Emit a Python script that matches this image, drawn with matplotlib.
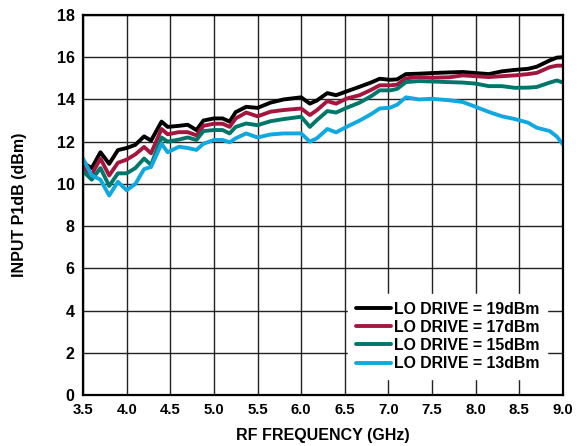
import numpy as np
import matplotlib.pyplot as plt

plt.rcParams['font.family'] = ['Liberation Sans', 'DejaVu Sans']
plt.rcParams['font.weight'] = 'bold'

# RF frequency (GHz)
freq = [3.5, 3.6, 3.7, 3.8, 3.9, 4.0, 4.1, 4.2, 4.28, 4.4, 4.47, 4.6, 4.7,
        4.8, 4.88, 5.0, 5.1, 5.18, 5.25, 5.37, 5.5, 5.65, 5.8, 6.0, 6.1,
        6.18, 6.3, 6.4, 6.52, 6.67, 6.8, 6.9, 7.02, 7.1, 7.2, 7.35, 7.5,
        7.7, 7.85, 8.0, 8.15, 8.3, 8.45, 8.6, 8.7, 8.85, 8.93, 9.0]

# input P1dB (dBm) per LO drive level
p1db_19 = [11.0, 10.75, 11.5, 10.95, 11.6, 11.7, 11.85, 12.25, 12.05, 12.95,
           12.7, 12.75, 12.8, 12.55, 13.0, 13.1, 13.1, 12.95, 13.4, 13.65,
           13.6, 13.85, 14.0, 14.1, 13.8, 13.95, 14.3, 14.2, 14.38, 14.6,
           14.8, 14.98, 14.93, 14.95, 15.2, 15.22, 15.25, 15.28, 15.3, 15.25,
           15.2, 15.33, 15.4, 15.45, 15.55, 15.85, 15.98, 16.0]
p1db_17 = [10.8, 10.45, 11.2, 10.4, 11.0, 11.15, 11.4, 11.75, 11.45, 12.6,
           12.35, 12.45, 12.45, 12.3, 12.75, 12.85, 12.85, 12.7, 13.1, 13.38,
           13.2, 13.42, 13.5, 13.57, 13.26, 13.49, 13.92, 13.8, 14.04, 14.2,
           14.45, 14.67, 14.67, 14.7, 15.0, 15.06, 15.03, 15.05, 15.14, 15.1,
           15.06, 15.1, 15.14, 15.2, 15.26, 15.53, 15.6, 15.6]
p1db_15 = [10.6, 10.2, 10.75, 9.9, 10.5, 10.5, 10.75, 11.2, 10.9, 12.2,
           12.0, 12.1, 12.2, 12.08, 12.5, 12.55, 12.55, 12.39, 12.7, 12.86,
           12.78, 12.97, 13.07, 13.18, 12.7, 13.02, 13.45, 13.38, 13.6, 13.85,
           14.15, 14.43, 14.43, 14.5, 14.82, 14.87, 14.85, 14.82, 14.8, 14.75,
           14.63, 14.63, 14.55, 14.56, 14.59, 14.8, 14.9, 14.8]
p1db_13 = [11.2, 10.4, 10.2, 9.45, 10.1, 9.7, 10.0, 10.7, 10.8, 11.9,
           11.5, 11.76, 11.7, 11.61, 11.9, 12.08, 12.08, 11.97, 12.16, 12.39,
           12.2, 12.34, 12.39, 12.39, 12.0, 12.16, 12.6, 12.44, 12.7, 13.0,
           13.3, 13.57, 13.61, 13.75, 14.1, 14.0, 14.03, 13.96, 13.88, 13.65,
           13.41, 13.2, 13.07, 12.9, 12.66, 12.5, 12.24, 11.87]

labels = ['LO DRIVE = 19dBm', 'LO DRIVE = 17dBm',
          'LO DRIVE = 15dBm', 'LO DRIVE = 13dBm']
colors = ['#000000', '#A3173F', '#00766B', '#10A8DE']

fig = plt.figure(figsize=(5.87, 4.46), dpi=100)
ax = fig.add_axes([0.1414, 0.1143, 0.8176, 0.8521])

for series, lab, col in zip([p1db_19, p1db_17, p1db_15, p1db_13], labels, colors):
    ax.plot(freq, series, color=col, lw=2.8, label=lab,
            solid_joinstyle='round', solid_capstyle='round', zorder=3)

ax.set_xlim(3.5, 9.0)
ax.set_ylim(0, 18)
ax.set_xticks(np.arange(3.5, 9.01, 0.5))
ax.set_yticks(np.arange(0, 18.1, 2))
ax.xaxis.set_major_formatter(plt.FormatStrFormatter('%.1f'))
ax.grid(True, color='#222222', lw=1.0, zorder=1)
ax.tick_params(axis='x', length=0, labelsize=10.7, pad=6)
ax.tick_params(axis='y', length=0, labelsize=11.5, pad=6)
for s in ax.spines.values():
    s.set_linewidth(1.6)
    s.set_zorder(4)

ax.set_xlabel('RF FREQUENCY (GHz)', fontsize=11.5, fontweight='bold')
ax.set_ylabel('INPUT P1dB (dBm)', fontsize=11.5, fontweight='bold')
ax.xaxis.set_label_coords(0.5, -0.088)
ax.yaxis.set_label_coords(-0.117, 0.5)

leg = ax.legend(loc='lower right', bbox_to_anchor=(0.984, 0.021),
                fontsize=11.4, frameon=True, fancybox=False,
                facecolor='white', edgecolor='white', framealpha=1,
                handlelength=2.2, handletextpad=0.2, labelspacing=0.2,
                borderpad=0.5)
leg.set_zorder(5)

fig.savefig('out.png', dpi=100)
